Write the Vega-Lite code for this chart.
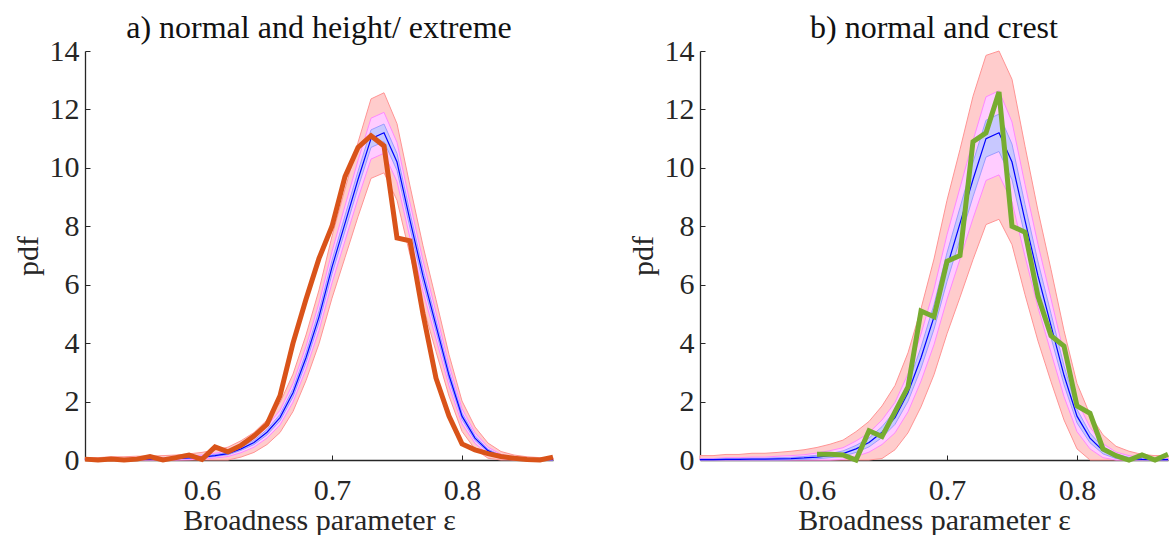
{
"$schema": "https://vega.github.io/schema/vega-lite/v6.json",
"background": "white",
"padding": {"left": 13, "top": 12, "right": 0, "bottom": 0},
"config": {
  "font": "Liberation Serif",
  "view": {"stroke": null},
  "axis": {"labelFont": "Liberation Serif", "titleFont": "Liberation Serif", "labelFontSize": 30, "titleFontSize": 30, "labelColor": "#262626", "titleColor": "#262626", "domainColor": "#262626", "tickColor": "#262626", "grid": false, "titleFontWeight": "normal", "tickSize": -5, "domainWidth": 1.3},
  "title": {"font": "Liberation Serif", "fontSize": 32, "fontWeight": "normal", "color": "#111111", "frame": "group"},
  "concat": {"spacing": 65}
},
"datasets": {
  "bands": [
{"p":"a","x":0.51,"m":0.01,"bl":0,"bh":0.02,"pl":0,"ph":0.03,"rl":0,"rh":0.08},
{"p":"a","x":0.52,"m":0.01,"bl":0,"bh":0.02,"pl":0,"ph":0.03,"rl":0,"rh":0.08},
{"p":"a","x":0.53,"m":0.02,"bl":0.01,"bh":0.03,"pl":0,"ph":0.05,"rl":0,"rh":0.11},
{"p":"a","x":0.54,"m":0.02,"bl":0.01,"bh":0.03,"pl":0,"ph":0.05,"rl":0,"rh":0.11},
{"p":"a","x":0.55,"m":0.03,"bl":0.01,"bh":0.05,"pl":0,"ph":0.07,"rl":0,"rh":0.13},
{"p":"a","x":0.56,"m":0.03,"bl":0.01,"bh":0.05,"pl":0,"ph":0.07,"rl":0,"rh":0.13},
{"p":"a","x":0.57,"m":0.04,"bl":0.02,"bh":0.06,"pl":0,"ph":0.08,"rl":0,"rh":0.15},
{"p":"a","x":0.58,"m":0.05,"bl":0.03,"bh":0.07,"pl":0,"ph":0.10,"rl":0,"rh":0.17},
{"p":"a","x":0.59,"m":0.07,"bl":0.05,"bh":0.09,"pl":0.01,"ph":0.13,"rl":0,"rh":0.21},
{"p":"a","x":0.60,"m":0.1,"bl":0.07,"bh":0.13,"pl":0.03,"ph":0.17,"rl":0,"rh":0.26},
{"p":"a","x":0.61,"m":0.15,"bl":0.12,"bh":0.19,"pl":0.07,"ph":0.23,"rl":0,"rh":0.34},
{"p":"a","x":0.62,"m":0.22,"bl":0.18,"bh":0.26,"pl":0.12,"ph":0.32,"rl":0,"rh":0.44},
{"p":"a","x":0.63,"m":0.38,"bl":0.33,"bh":0.44,"pl":0.25,"ph":0.51,"rl":0.10,"rh":0.66},
{"p":"a","x":0.64,"m":0.6,"bl":0.53,"bh":0.67,"pl":0.44,"ph":0.76,"rl":0.26,"rh":0.94},
{"p":"a","x":0.65,"m":0.95,"bl":0.86,"bh":1.04,"pl":0.75,"ph":1.16,"rl":0.53,"rh":1.37},
{"p":"a","x":0.66,"m":1.45,"bl":1.34,"bh":1.56,"pl":1.20,"ph":1.70,"rl":0.94,"rh":1.96},
{"p":"a","x":0.67,"m":2.3,"bl":2.16,"bh":2.44,"pl":1.98,"ph":2.62,"rl":1.66,"rh":2.94},
{"p":"a","x":0.68,"m":3.5,"bl":3.33,"bh":3.67,"pl":3.11,"ph":3.89,"rl":2.72,"rh":4.28},
{"p":"a","x":0.69,"m":4.9,"bl":4.70,"bh":5.10,"pl":4.43,"ph":5.37,"rl":3.98,"rh":5.82},
{"p":"a","x":0.70,"m":6.6,"bl":6.37,"bh":6.83,"pl":6.06,"ph":7.14,"rl":5.54,"rh":7.66},
{"p":"a","x":0.71,"m":8.1,"bl":7.84,"bh":8.36,"pl":7.50,"ph":8.70,"rl":6.93,"rh":9.27},
{"p":"a","x":0.72,"m":9.6,"bl":9.32,"bh":9.88,"pl":8.95,"ph":10.25,"rl":8.33,"rh":10.87},
{"p":"a","x":0.73,"m":11.0,"bl":10.70,"bh":11.30,"pl":10.30,"ph":11.70,"rl":9.64,"rh":12.36},
{"p":"a","x":0.74,"m":11.2,"bl":10.90,"bh":11.50,"pl":10.50,"ph":11.90,"rl":9.83,"rh":12.57},
{"p":"a","x":0.75,"m":10.2,"bl":9.91,"bh":10.49,"pl":9.53,"ph":10.87,"rl":8.89,"rh":11.51},
{"p":"a","x":0.76,"m":8.2,"bl":7.94,"bh":8.46,"pl":7.60,"ph":8.80,"rl":7.02,"rh":9.38},
{"p":"a","x":0.77,"m":6.3,"bl":6.07,"bh":6.53,"pl":5.77,"ph":6.83,"rl":5.27,"rh":7.33},
{"p":"a","x":0.78,"m":4.6,"bl":4.41,"bh":4.79,"pl":4.15,"ph":5.05,"rl":3.71,"rh":5.49},
{"p":"a","x":0.79,"m":2.9,"bl":2.75,"bh":3.05,"pl":2.54,"ph":3.26,"rl":2.19,"rh":3.61},
{"p":"a","x":0.80,"m":1.5,"bl":1.39,"bh":1.61,"pl":1.24,"ph":1.76,"rl":0.98,"rh":2.02},
{"p":"a","x":0.81,"m":0.75,"bl":0.67,"bh":0.83,"pl":0.57,"ph":0.93,"rl":0.37,"rh":1.13},
{"p":"a","x":0.82,"m":0.32,"bl":0.27,"bh":0.37,"pl":0.20,"ph":0.44,"rl":0.06,"rh":0.58},
{"p":"a","x":0.83,"m":0.12,"bl":0.09,"bh":0.15,"pl":0.05,"ph":0.19,"rl":0,"rh":0.29},
{"p":"a","x":0.84,"m":0.05,"bl":0.03,"bh":0.07,"pl":0,"ph":0.10,"rl":0,"rh":0.17},
{"p":"a","x":0.85,"m":0.02,"bl":0.01,"bh":0.03,"pl":0,"ph":0.05,"rl":0,"rh":0.11},
{"p":"a","x":0.86,"m":0.01,"bl":0,"bh":0.02,"pl":0,"ph":0.03,"rl":0,"rh":0.08},
{"p":"a","x":0.87,"m":0.01,"bl":0,"bh":0.02,"pl":0,"ph":0.03,"rl":0,"rh":0.08},
{"p":"b","x":0.51,"m":0.01,"bl":0,"bh":0.03,"pl":0,"ph":0.05,"rl":0,"rh":0.15},
{"p":"b","x":0.52,"m":0.01,"bl":0,"bh":0.03,"pl":0,"ph":0.05,"rl":0,"rh":0.15},
{"p":"b","x":0.53,"m":0.02,"bl":0,"bh":0.05,"pl":0,"ph":0.08,"rl":0,"rh":0.19},
{"p":"b","x":0.54,"m":0.02,"bl":0,"bh":0.05,"pl":0,"ph":0.08,"rl":0,"rh":0.19},
{"p":"b","x":0.55,"m":0.03,"bl":0,"bh":0.06,"pl":0,"ph":0.10,"rl":0,"rh":0.23},
{"p":"b","x":0.56,"m":0.03,"bl":0,"bh":0.06,"pl":0,"ph":0.10,"rl":0,"rh":0.23},
{"p":"b","x":0.57,"m":0.04,"bl":0,"bh":0.08,"pl":0,"ph":0.13,"rl":0,"rh":0.26},
{"p":"b","x":0.58,"m":0.05,"bl":0.01,"bh":0.09,"pl":0,"ph":0.15,"rl":0,"rh":0.30},
{"p":"b","x":0.59,"m":0.07,"bl":0.02,"bh":0.12,"pl":0,"ph":0.18,"rl":0,"rh":0.35},
{"p":"b","x":0.60,"m":0.1,"bl":0.04,"bh":0.16,"pl":0,"ph":0.24,"rl":0,"rh":0.43},
{"p":"b","x":0.61,"m":0.15,"bl":0.08,"bh":0.22,"pl":0,"ph":0.32,"rl":0,"rh":0.54},
{"p":"b","x":0.62,"m":0.22,"bl":0.13,"bh":0.31,"pl":0.02,"ph":0.42,"rl":0,"rh":0.68},
{"p":"b","x":0.63,"m":0.38,"bl":0.26,"bh":0.50,"pl":0.12,"ph":0.65,"rl":0,"rh":0.97},
{"p":"b","x":0.64,"m":0.6,"bl":0.45,"bh":0.75,"pl":0.27,"ph":0.93,"rl":0,"rh":1.32},
{"p":"b","x":0.65,"m":0.95,"bl":0.77,"bh":1.14,"pl":0.53,"ph":1.37,"rl":0.05,"rh":1.85},
{"p":"b","x":0.66,"m":1.45,"bl":1.22,"bh":1.68,"pl":0.93,"ph":1.97,"rl":0.35,"rh":2.55},
{"p":"b","x":0.67,"m":2.3,"bl":2.01,"bh":2.59,"pl":1.65,"ph":2.95,"rl":0.93,"rh":3.67},
{"p":"b","x":0.68,"m":3.5,"bl":3.14,"bh":3.86,"pl":2.70,"ph":4.31,"rl":1.82,"rh":5.18},
{"p":"b","x":0.69,"m":4.9,"bl":4.48,"bh":5.32,"pl":3.95,"ph":5.85,"rl":2.92,"rh":6.88},
{"p":"b","x":0.70,"m":6.6,"bl":6.11,"bh":7.09,"pl":5.50,"ph":7.71,"rl":4.32,"rh":8.89},
{"p":"b","x":0.71,"m":8.1,"bl":7.56,"bh":8.64,"pl":6.88,"ph":9.32,"rl":5.57,"rh":10.63},
{"p":"b","x":0.72,"m":9.6,"bl":9.01,"bh":10.19,"pl":8.27,"ph":10.93,"rl":6.86,"rh":12.45},
{"p":"b","x":0.73,"m":11.0,"bl":10.37,"bh":11.63,"pl":9.57,"ph":12.43,"rl":8.06,"rh":13.85},
{"p":"b","x":0.74,"m":11.2,"bl":10.56,"bh":11.84,"pl":9.76,"ph":12.64,"rl":8.24,"rh":14.0},
{"p":"b","x":0.75,"m":10.2,"bl":9.59,"bh":10.81,"pl":8.83,"ph":11.57,"rl":7.37,"rh":13.03},
{"p":"b","x":0.76,"m":8.2,"bl":7.66,"bh":8.74,"pl":6.97,"ph":9.43,"rl":5.66,"rh":10.74},
{"p":"b","x":0.77,"m":6.3,"bl":5.82,"bh":6.78,"pl":5.22,"ph":7.38,"rl":4.07,"rh":8.53},
{"p":"b","x":0.78,"m":4.6,"bl":4.19,"bh":5.01,"pl":3.68,"ph":5.52,"rl":2.68,"rh":6.52},
{"p":"b","x":0.79,"m":2.9,"bl":2.58,"bh":3.22,"pl":2.17,"ph":3.63,"rl":1.37,"rh":4.43},
{"p":"b","x":0.80,"m":1.5,"bl":1.27,"bh":1.73,"pl":0.97,"ph":2.03,"rl":0.38,"rh":2.62},
{"p":"b","x":0.81,"m":0.75,"bl":0.59,"bh":0.92,"pl":0.38,"ph":1.12,"rl":0,"rh":1.55},
{"p":"b","x":0.82,"m":0.32,"bl":0.21,"bh":0.43,"pl":0.08,"ph":0.56,"rl":0,"rh":0.86},
{"p":"b","x":0.83,"m":0.12,"bl":0.05,"bh":0.19,"pl":0,"ph":0.27,"rl":0,"rh":0.47},
{"p":"b","x":0.84,"m":0.05,"bl":0.01,"bh":0.09,"pl":0,"ph":0.15,"rl":0,"rh":0.30},
{"p":"b","x":0.85,"m":0.02,"bl":0,"bh":0.05,"pl":0,"ph":0.08,"rl":0,"rh":0.19},
{"p":"b","x":0.86,"m":0.01,"bl":0,"bh":0.03,"pl":0,"ph":0.05,"rl":0,"rh":0.15},
{"p":"b","x":0.87,"m":0.01,"bl":0,"bh":0.03,"pl":0,"ph":0.05,"rl":0,"rh":0.15}
  ],
  "obs": [
{"p":"a","x":0.51,"y":0.03},{"p":"a","x":0.52,"y":0.0},{"p":"a","x":0.53,"y":0.03},{"p":"a","x":0.54,"y":0.0},
{"p":"a","x":0.55,"y":0.03},{"p":"a","x":0.56,"y":0.12},{"p":"a","x":0.57,"y":0.0},{"p":"a","x":0.58,"y":0.08},
{"p":"a","x":0.59,"y":0.17},{"p":"a","x":0.60,"y":0.02},{"p":"a","x":0.61,"y":0.45},{"p":"a","x":0.62,"y":0.28},
{"p":"a","x":0.63,"y":0.5},{"p":"a","x":0.64,"y":0.82},{"p":"a","x":0.65,"y":1.22},{"p":"a","x":0.66,"y":2.2},
{"p":"a","x":0.67,"y":4.0},{"p":"a","x":0.68,"y":5.5},{"p":"a","x":0.69,"y":6.9},{"p":"a","x":0.70,"y":8.0},
{"p":"a","x":0.71,"y":9.7},{"p":"a","x":0.72,"y":10.7},{"p":"a","x":0.73,"y":11.1},{"p":"a","x":0.74,"y":10.75},
{"p":"a","x":0.75,"y":7.6},{"p":"a","x":0.76,"y":7.5},{"p":"a","x":0.77,"y":5.0},{"p":"a","x":0.78,"y":2.8},
{"p":"a","x":0.79,"y":1.5},{"p":"a","x":0.80,"y":0.55},{"p":"a","x":0.81,"y":0.35},{"p":"a","x":0.82,"y":0.22},
{"p":"a","x":0.83,"y":0.12},{"p":"a","x":0.84,"y":0.06},{"p":"a","x":0.85,"y":0.02},{"p":"a","x":0.86,"y":0.0},
{"p":"a","x":0.87,"y":0.1},
{"p":"b","x":0.60,"y":0.2},{"p":"b","x":0.61,"y":0.2},{"p":"b","x":0.62,"y":0.17},{"p":"b","x":0.63,"y":0.0},
{"p":"b","x":0.64,"y":1.0},{"p":"b","x":0.65,"y":0.8},{"p":"b","x":0.66,"y":1.65},{"p":"b","x":0.67,"y":2.5},
{"p":"b","x":0.68,"y":5.1},{"p":"b","x":0.69,"y":4.9},{"p":"b","x":0.70,"y":6.8},{"p":"b","x":0.71,"y":7.0},
{"p":"b","x":0.72,"y":10.9},{"p":"b","x":0.73,"y":11.2},{"p":"b","x":0.74,"y":12.6},{"p":"b","x":0.75,"y":8.0},
{"p":"b","x":0.76,"y":7.8},{"p":"b","x":0.77,"y":5.6},{"p":"b","x":0.78,"y":4.25},{"p":"b","x":0.79,"y":3.9},
{"p":"b","x":0.80,"y":1.85},{"p":"b","x":0.81,"y":1.6},{"p":"b","x":0.82,"y":0.38},{"p":"b","x":0.83,"y":0.15},
{"p":"b","x":0.84,"y":0.0},{"p":"b","x":0.85,"y":0.17},{"p":"b","x":0.86,"y":0.0},{"p":"b","x":0.87,"y":0.2}
  ]
},
"hconcat": [
{
  "width": 468, "height": 409,
  "title": {"text": "a) normal and height/ extreme", "offset": -9},
  "encoding": {"x": {"field": "x", "type": "quantitative", "scale": {"domain": [0.51, 0.87], "nice": false, "zero": false}, "axis": {"values": [0.6, 0.7, 0.8], "format": ".1f", "title": "Broadness parameter ε", "labelPadding": 20, "titlePadding": 0}}},
  "layer": [
    {"data": {"name": "bands"}, "transform": [{"filter": "datum.p === 'a'"}], "mark": {"type": "area", "fill": "#FFCCCC", "stroke": "#FF9494", "strokeWidth": 1},
     "encoding": {"y": {"field": "rl", "type": "quantitative", "scale": {"domain": [0, 14], "nice": false}, "axis": {"values": [0,2,4,6,8,10,12,14], "title": "pdf", "labelPadding": 11, "titlePadding": 6}}, "y2": {"field": "rh"}}},
    {"data": {"name": "bands"}, "transform": [{"filter": "datum.p === 'a'"}], "mark": {"type": "area", "fill": "#FFCCFF", "stroke": "#FF88FF", "strokeWidth": 1},
     "encoding": {"y": {"field": "pl", "type": "quantitative"}, "y2": {"field": "ph"}}},
    {"data": {"name": "bands"}, "transform": [{"filter": "datum.p === 'a'"}], "mark": {"type": "area", "fill": "#C8C8FF", "stroke": "#9C9CFF", "strokeWidth": 1},
     "encoding": {"y": {"field": "bl", "type": "quantitative"}, "y2": {"field": "bh"}}},
    {"data": {"name": "bands"}, "transform": [{"filter": "datum.p === 'a'"}], "mark": {"type": "line", "color": "#0000FF", "strokeWidth": 1.2},
     "encoding": {"y": {"field": "m", "type": "quantitative"}}},
    {"data": {"name": "obs"}, "transform": [{"filter": "datum.p === 'a'"}], "mark": {"type": "line", "color": "#D95319", "strokeWidth": 5},
     "encoding": {"y": {"field": "y", "type": "quantitative"}}}
  ]
},
{
  "width": 468, "height": 409,
  "title": {"text": "b) normal and crest", "offset": -9},
  "encoding": {"x": {"field": "x", "type": "quantitative", "scale": {"domain": [0.51, 0.87], "nice": false, "zero": false}, "axis": {"values": [0.6, 0.7, 0.8], "format": ".1f", "title": "Broadness parameter ε", "labelPadding": 20, "titlePadding": 0}}},
  "layer": [
    {"data": {"name": "bands"}, "transform": [{"filter": "datum.p === 'b'"}], "mark": {"type": "area", "fill": "#FFCCCC", "stroke": "#FF9494", "strokeWidth": 1},
     "encoding": {"y": {"field": "rl", "type": "quantitative", "scale": {"domain": [0, 14], "nice": false}, "axis": {"values": [0,2,4,6,8,10,12,14], "title": "pdf", "labelPadding": 11, "titlePadding": 6}}, "y2": {"field": "rh"}}},
    {"data": {"name": "bands"}, "transform": [{"filter": "datum.p === 'b'"}], "mark": {"type": "area", "fill": "#FFCCFF", "stroke": "#FF88FF", "strokeWidth": 1},
     "encoding": {"y": {"field": "pl", "type": "quantitative"}, "y2": {"field": "ph"}}},
    {"data": {"name": "bands"}, "transform": [{"filter": "datum.p === 'b'"}], "mark": {"type": "area", "fill": "#C8C8FF", "stroke": "#9C9CFF", "strokeWidth": 1},
     "encoding": {"y": {"field": "bl", "type": "quantitative"}, "y2": {"field": "bh"}}},
    {"data": {"name": "bands"}, "transform": [{"filter": "datum.p === 'b'"}], "mark": {"type": "line", "color": "#0000FF", "strokeWidth": 1.2},
     "encoding": {"y": {"field": "m", "type": "quantitative"}}},
    {"data": {"name": "obs"}, "transform": [{"filter": "datum.p === 'b'"}], "mark": {"type": "line", "color": "#77AC30", "strokeWidth": 5},
     "encoding": {"y": {"field": "y", "type": "quantitative"}}}
  ]
}
]
}
